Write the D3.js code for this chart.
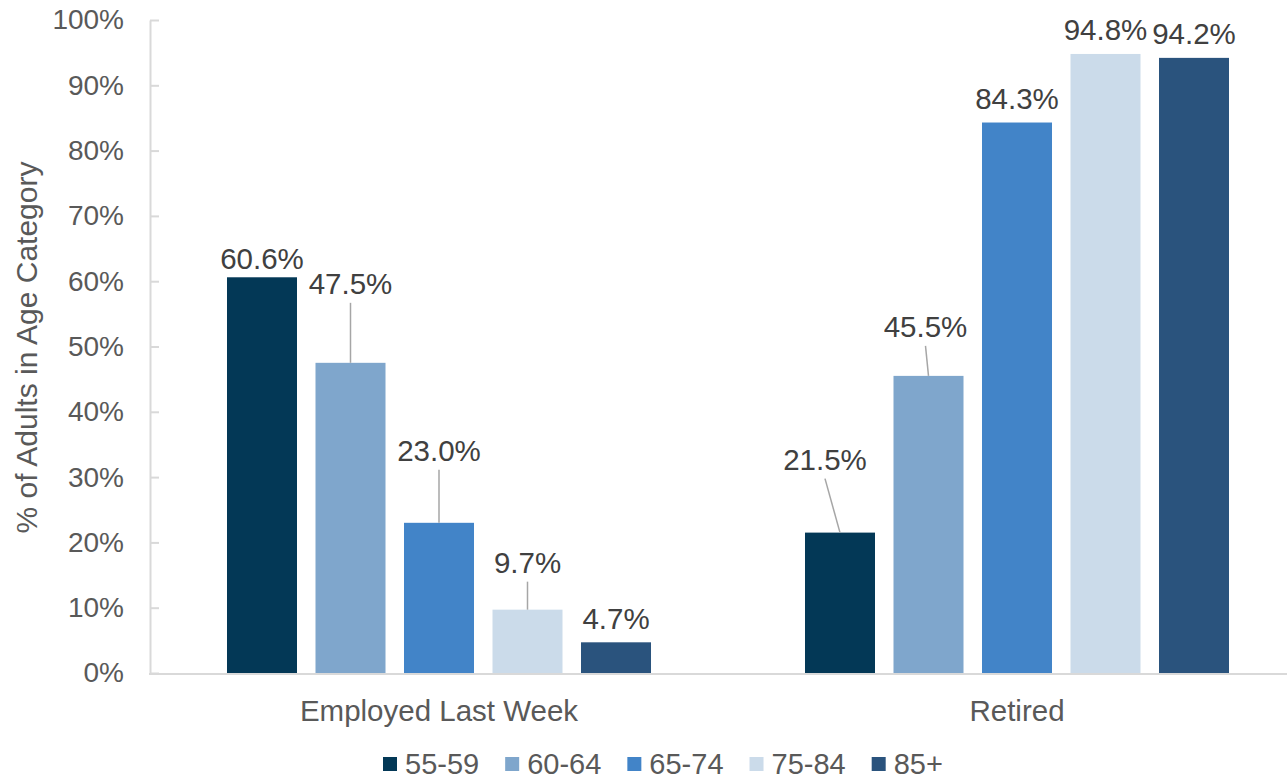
<!DOCTYPE html>
<html>
<head>
<meta charset="utf-8">
<script src="https://cdn.jsdelivr.net/npm/d3@7"></script>
<style>
  body { margin: 0; background: #fff; }
  svg { display: block; font-family: "Liberation Sans", Arial, sans-serif; }
</style>
</head>
<body>
<script>
const categories = ["Employed Last Week", "Retired"];
const ageGroups = ["55-59", "60-64", "65-74", "75-84", "85+"];
const employed = [60.6, 47.5, 23.0, 9.7, 4.7];
const retired = [21.5, 45.5, 84.3, 94.8, 94.2];
const yTicks = [0, 10, 20, 30, 40, 50, 60, 70, 80, 90, 100];
const colors = ["#033856", "#7fa6cc", "#4284c8", "#cbdbea", "#2a537d"];

const width = 1287, height = 779;
const margin = {top: 20, right: 0, bottom: 106, left: 150};

// label nudges for the ones Excel moved by hand (category index, age index)
const nudges = {
  "0-0": {dx: 0, dy: 5},
  "0-1": {dx: 0, dy: -55},
  "0-2": {dx: 0, dy: -48},
  "0-3": {dx: 0, dy: -23},
  "1-0": {dx: -15, dy: -49},
  "1-1": {dx: -3, dy: -25}
};

const series = [employed, retired];
const rows = [];
categories.forEach((c, i) => ageGroups.forEach((a, j) => {
  rows.push({cat: c, age: a, value: series[i][j], key: `${i}-${j}`});
}));

const svg = d3.select("body").append("svg")
    .attr("width", width)
    .attr("height", height)
    .attr("viewBox", [0, 0, width, height]);

const x0 = d3.scaleBand()
    .domain(categories)
    .range([margin.left, margin.left + 578 * 2]);

const x1 = d3.scaleBand()
    .domain(ageGroups)
    .range([0, x0.bandwidth()])
    .paddingInner(0.209)
    .paddingOuter(0.87);

const y = d3.scaleLinear()
    .domain([0, 100])
    .range([673, margin.top]);

const color = d3.scaleOrdinal().domain(ageGroups).range(colors);

// bars
svg.append("g")
  .selectAll("rect")
  .data(rows)
  .join("rect")
    .attr("x", d => x0(d.cat) + x1(d.age))
    .attr("width", x1.bandwidth())
    .attr("y", d => y(d.value))
    .attr("height", d => y(0) - y(d.value))
    .attr("fill", d => color(d.age));

// y axis
svg.append("g")
    .attr("transform", `translate(${margin.left},0)`)
    .call(d3.axisLeft(y).tickValues(yTicks).tickFormat(d => d + "%")
        .tickSizeInner(-9).tickSizeOuter(0).tickPadding(26))
    .call(g => g.select(".domain").attr("stroke", "#d9d9d9").attr("stroke-width", 2))
    .call(g => g.selectAll(".tick line").attr("stroke", "#d9d9d9").attr("stroke-width", 2))
    .call(g => g.selectAll(".tick text")
        .attr("font-size", 28)
        .attr("font-family", "Liberation Sans, Arial, sans-serif")
        .attr("fill", "#595959"));

// x axis
svg.append("g")
    .attr("transform", `translate(0,${y(0) + 1})`)
    .call(d3.axisBottom(x0).tickSize(0).tickPadding(26))
    .call(g => g.select(".domain").remove())
    .call(g => g.append("line")
        .attr("x1", margin.left - 1)
        .attr("x2", width)
        .attr("stroke", "#d9d9d9")
        .attr("stroke-width", 2))
    .call(g => g.selectAll(".tick text")
        .attr("font-size", 29.5)
        .attr("font-family", "Liberation Sans, Arial, sans-serif")
        .attr("fill", "#595959"));

// y title
svg.append("text")
    .attr("transform", `translate(37,${(y(0) + y(100)) / 2 + 1}) rotate(-90)`)
    .attr("text-anchor", "middle")
    .attr("font-size", 30)
    .attr("fill", "#595959")
    .text("% of Adults in Age Category");

// data labels with leader lines
const labelPos = d => {
  const n = nudges[d.key] || {dx: 0, dy: 0};
  const bx = x0(d.cat) + x1(d.age) + x1.bandwidth() / 2;
  return {bx, top: y(d.value), lx: bx + n.dx, ly: y(d.value) - 24 + n.dy, moved: n.dy < -15};
};

svg.append("g")
  .selectAll("line")
  .data(rows.filter(d => labelPos(d).moved))
  .join("line")
    .attr("x1", d => labelPos(d).lx)
    .attr("y1", d => labelPos(d).ly + 19)
    .attr("x2", d => labelPos(d).bx)
    .attr("y2", d => labelPos(d).top)
    .attr("stroke", "#a6a6a6")
    .attr("stroke-width", 1.5);

svg.append("g")
    .attr("font-size", 29.5)
    .attr("fill", "#404040")
    .attr("text-anchor", "middle")
  .selectAll("text")
  .data(rows)
  .join("text")
    .attr("x", d => labelPos(d).lx)
    .attr("y", d => labelPos(d).ly)
    .attr("dy", "0.35em")
    .text(d => d.value.toFixed(1) + "%");

// legend
const legend = svg.append("g").attr("font-size", 29).attr("fill", "#595959");
let lx = 383;
ageGroups.forEach(a => {
  const item = legend.append("g").attr("transform", `translate(${lx},757)`);
  item.append("rect").attr("width", 14).attr("height", 14).attr("fill", color(a));
  const t = item.append("text").attr("x", 22).attr("y", 7).attr("dy", "0.35em").text(a);
  lx += 22 + t.node().getComputedTextLength() + 26;
});
</script>
</body>
</html>
